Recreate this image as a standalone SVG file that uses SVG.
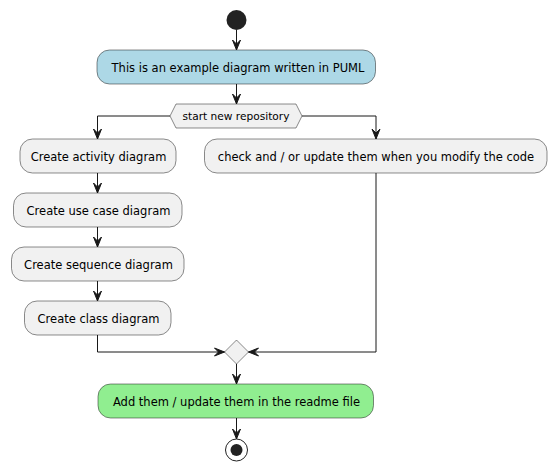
<svg xmlns="http://www.w3.org/2000/svg" width="556" height="470" viewBox="0 0 556 470">
<defs>
<style>
.box{stroke:#181818;stroke-width:0.5}
.act{fill:#F1F1F1}
.t{font-family:"DejaVu Sans","Liberation Sans",sans-serif;font-size:11.5px;fill:#000;text-anchor:middle}
.ts{font-family:"DejaVu Sans","Liberation Sans",sans-serif;font-size:10.6px;fill:#000;text-anchor:middle}
.ln{fill:none;stroke:#181818;stroke-width:1}
.ah{fill:#181818;stroke:#181818;stroke-width:1}
</style>
</defs>
<rect width="556" height="470" fill="#FFFFFF"/>
<g id="start"><circle cx="236.5" cy="20" r="10" fill="#222222"/></g>
<g id="intro"><rect class="box" x="97" y="50" width="278.5" height="34" rx="12.5" fill="#ADD8E6"/><text class="t" x="238" y="71.5">This is an example diagram written in PUML</text></g>
<g id="fork"><polygon class="box" points="170,116 176,104 296,104 302,116 296,128 176,128" fill="#F1F1F1"/><text class="ts" x="236" y="120">start new repository</text></g>
<g id="activity"><rect class="box act" x="20" y="139" width="156" height="34" rx="12.5"/><text class="t" x="98.5" y="160.5">Create activity diagram</text></g>
<g id="usecase"><rect class="box act" x="13.5" y="193" width="168.5" height="34" rx="12.5"/><text class="t" x="98.5" y="214.5">Create use case diagram</text></g>
<g id="sequence"><rect class="box act" x="11.5" y="247" width="172.5" height="34" rx="12.5"/><text class="t" x="98.5" y="268.5">Create sequence diagram</text></g>
<g id="class"><rect class="box act" x="24.5" y="301" width="146.5" height="34" rx="12.5"/><text class="t" x="98.5" y="322.5">Create class diagram</text></g>
<g id="check"><rect class="box act" x="204.5" y="139" width="342.5" height="34" rx="12.5"/><text class="t" x="376" y="160.5">check and / or update them when you modify the code</text></g>
<g id="merge"><polygon class="box" points="236.5,340 248.5,352 236.5,364 224.5,352" fill="#F1F1F1"/></g>
<g id="readme"><rect class="box" x="98" y="384" width="275.5" height="34" rx="12.5" fill="#90EE90"/><text class="t" x="236.5" y="405.5">Add them / update them in the readme file</text></g>
<g id="end"><circle cx="236.5" cy="450" r="11" fill="none" stroke="#222222" stroke-width="1"/><circle cx="236.5" cy="450" r="6" fill="#222222"/></g>
<g id="connectors">
<line class="ln" x1="236.5" y1="30" x2="236.5" y2="50"/>
<polygon class="ah" points="232.5,40 236.5,50 240.5,40 236.5,44"/>
<line class="ln" x1="236.5" y1="84" x2="236.5" y2="104"/>
<polygon class="ah" points="232.5,94 236.5,104 240.5,94 236.5,98"/>
<polyline class="ln" points="170,116 97.5,116 97.5,139"/>
<polygon class="ah" points="93.5,129 97.5,139 101.5,129 97.5,133"/>
<polyline class="ln" points="302,116 376,116 376,139"/>
<polygon class="ah" points="372,129 376,139 380,129 376,133"/>
<line class="ln" x1="97.5" y1="173" x2="97.5" y2="193"/>
<polygon class="ah" points="93.5,183 97.5,193 101.5,183 97.5,187"/>
<line class="ln" x1="97.5" y1="227" x2="97.5" y2="247"/>
<polygon class="ah" points="93.5,237 97.5,247 101.5,237 97.5,241"/>
<line class="ln" x1="97.5" y1="281" x2="97.5" y2="301"/>
<polygon class="ah" points="93.5,291 97.5,301 101.5,291 97.5,295"/>
<polyline class="ln" points="97.5,335 97.5,352 224.5,352"/>
<polygon class="ah" points="214.5,348 224.5,352 214.5,356 218.5,352"/>
<polyline class="ln" points="376,173 376,352 248.5,352"/>
<polygon class="ah" points="258.5,348 248.5,352 258.5,356 254.5,352"/>
<line class="ln" x1="236.5" y1="364" x2="236.5" y2="384"/>
<polygon class="ah" points="232.5,374 236.5,384 240.5,374 236.5,378"/>
<line class="ln" x1="236.5" y1="418" x2="236.5" y2="439"/>
<polygon class="ah" points="232.5,429 236.5,439 240.5,429 236.5,433"/>
</g>
</svg>
